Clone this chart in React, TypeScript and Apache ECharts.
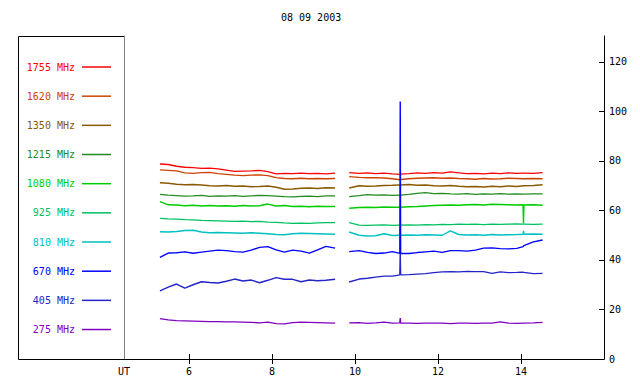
import React, { useEffect, useRef } from "react";
import * as echarts from "echarts";

const titleText = "08 09 2003";

// UT hours (shared sampling for all channels); 9.70 is the data gap
const times = [
  5.3, 5.5, 5.7, 5.9, 6.1, 6.3, 6.5, 6.7, 6.9, 7.1, 7.3, 7.5, 7.7, 7.9, 8.1, 8.3, 8.5, 8.7, 8.9, 9.1, 9.3, 9.52,
  9.7,
  9.86, 10.1, 10.3, 10.5, 10.7, 10.9, 11.08, 11.09, 11.1, 11.3, 11.5, 11.7, 11.9, 12.1, 12.3, 12.5, 12.7, 12.9,
  13.1, 13.3, 13.5, 13.7, 13.9, 14.05, 14.06, 14.07, 14.3, 14.52,
];

const f1755 = [
  78.8, 78.6, 77.9, 77.5, 77.3, 77.0, 77.1, 76.8, 76.3, 75.8, 75.9, 76.0, 76.2, 75.7, 74.8, 75.0, 74.9, 75.1, 74.9, 75.0, 74.8, 75.1,
  null,
  75.3, 75.0, 75.2, 74.9, 75.1, 74.8, 74.6, 74.6, 74.7, 74.9, 75.2, 75.0, 75.3, 75.1, 75.6, 75.2, 74.9, 75.0, 74.8, 75.1, 74.9, 75.2, 75.0, 75.1, 75.1, 75.1, 75.0, 75.3,
];
const f1620 = [
  76.4, 76.2, 76.0, 75.2, 75.0, 75.3, 75.4, 74.9, 74.6, 74.3, 74.1, 74.3, 74.4, 74.1, 73.3, 72.9, 72.8, 73.0, 72.8, 72.9, 72.8, 72.9,
  null,
  73.7, 73.4, 73.2, 73.3, 73.1, 72.8, 72.4, 72.4, 72.5, 72.8, 73.0, 73.1, 73.2, 73.0, 73.1, 72.9, 72.8, 72.6, 72.9, 72.7, 72.8, 73.0, 72.9, 72.8, 72.8, 72.8, 72.9, 72.8,
];
const f1350 = [
  71.2, 71.0, 70.6, 70.4, 70.5, 70.3, 70.0, 69.9, 70.1, 69.8, 69.9, 69.6, 69.7, 69.9, 69.4, 68.6, 68.7, 69.0, 69.1, 68.9, 69.2, 69.1,
  null,
  69.1, 70.0, 69.8, 69.9, 70.1, 70.2, 70.3, 70.3, 70.3, 70.5, 70.2, 70.3, 70.0, 69.9, 70.1, 69.8, 69.6, 69.7, 69.5, 69.8, 69.6, 69.9, 69.7, 70.0, 70.0, 70.0, 70.1, 70.4,
];
const f1215 = [
  66.5, 66.2, 66.0, 65.8, 65.9, 66.1, 65.7, 65.9, 65.8, 66.0, 65.7, 65.9, 66.1, 66.0, 65.8, 65.6, 65.5, 65.7, 65.8, 65.6, 65.9, 65.9,
  null,
  65.6, 66.0, 66.4, 66.2, 66.3, 66.1, 66.2, 66.2, 66.2, 66.5, 66.9, 67.2, 66.8, 66.9, 66.7, 66.6, 66.8, 66.5, 66.7, 66.6, 66.8, 66.6, 66.7, 66.6, 66.6, 66.6, 66.7, 66.7,
];
const f1080 = [
  63.6, 62.3, 62.2, 61.9, 62.1, 61.8, 62.0, 61.8, 61.9, 61.7, 62.0, 61.8, 61.9, 62.6, 61.8, 62.0, 61.6, 61.7, 61.5, 61.7, 61.6, 61.6,
  null,
  60.9, 61.2, 61.3, 61.2, 61.4, 61.3, 61.3, 61.3, 61.3, 61.5, 61.6, 61.8, 62.0, 62.1, 62.2, 62.1, 62.3, 62.4, 62.2, 62.5, 62.4, 62.3, 62.2, 62.3, 54.8, 62.2, 62.3, 62.1,
];
const f925 = [
  56.8, 56.6, 56.5, 56.3, 56.2, 56.0, 55.9, 55.8, 55.7, 55.6, 55.7, 55.5, 55.6, 55.3, 55.2, 55.0, 54.8, 54.9, 54.8, 55.0, 55.1, 55.1,
  null,
  55.1, 54.1, 54.0, 54.1, 54.2, 54.0, 54.1, 54.1, 54.1, 54.2, 54.1, 54.3, 54.2, 54.4, 54.3, 54.5, 54.4, 54.5, 54.3, 54.5, 54.4, 54.5, 54.6, 54.5, 54.5, 54.5, 54.4, 54.5,
];
const f810 = [
  51.4, 51.3, 51.5, 51.9, 52.0, 51.3, 51.0, 51.1, 51.0, 50.9, 50.8, 51.0, 50.8, 50.6, 50.3, 50.2, 50.6, 50.8, 50.7, 50.6, 50.5, 50.4,
  null,
  51.3, 50.0, 49.7, 49.8, 50.6, 49.9, 50.0, 50.0, 50.0, 50.1, 50.0, 50.2, 50.1, 50.0, 51.8, 50.3, 50.1, 50.2, 50.0, 50.3, 50.1, 50.2, 50.3, 50.4, 51.8, 50.4, 50.5, 50.4,
];
const f670 = [
  41.1, 42.8, 42.9, 43.3, 42.7, 43.2, 43.6, 44.0, 43.8, 43.4, 43.2, 44.0, 45.1, 45.4, 44.1, 43.2, 44.0, 43.6, 42.8, 44.1, 45.5, 44.8,
  null,
  43.4, 43.8, 43.1, 42.6, 42.8, 43.4, 42.7, 104.0, 42.6, 42.6, 43.0, 43.3, 43.6, 43.1, 43.8, 43.8, 43.6, 44.0, 44.8, 44.9, 44.6, 44.5, 44.7, 45.4, 45.6, 45.8, 47.3, 48.1,
];
const f405 = [
  27.5, 29.0, 30.3, 28.6, 30.0, 31.2, 30.9, 30.7, 31.4, 32.3, 31.5, 31.9, 30.8, 31.8, 32.9, 32.2, 32.2, 31.2, 31.9, 31.6, 31.8, 32.2,
  null,
  31.1, 32.3, 32.6, 33.1, 33.5, 33.5, 34.0, 43.0, 34.0, 34.1, 34.3, 34.5, 34.9, 35.2, 35.3, 35.2, 35.4, 35.3, 35.3, 34.6, 35.2, 34.9, 35.0, 35.1, 35.1, 35.0, 34.5, 34.6,
];
const f275 = [
  16.3, 15.8, 15.5, 15.4, 15.3, 15.2, 15.1, 15.1, 15.0, 15.0, 14.9, 14.8, 14.6, 14.9, 14.3, 14.2, 14.7, 14.9, 14.8, 14.7, 14.6, 14.5,
  null,
  14.6, 14.7, 14.4, 14.6, 14.9, 14.5, 14.6, 16.5, 14.5, 14.5, 14.4, 14.5, 14.5, 14.5, 14.3, 14.5, 14.5, 14.4, 14.5, 14.5, 15.0, 14.5, 14.4, 14.5, 14.5, 14.5, 14.6, 14.8,
];

const channelNames = ["1755 MHz", "1620 MHz", "1350 MHz", "1215 MHz", "1080 MHz", "925 MHz", "810 MHz", "670 MHz", "405 MHz", "275 MHz"];
const channelValues = [f1755, f1620, f1350, f1215, f1080, f925, f810, f670, f405, f275];
const channelColors = ["#ff0000", "#cc4400", "#8b5a00", "#228b22", "#00cc00", "#00c060", "#00c0c0", "#0000ff", "#2424c8", "#8000c0"];

const xTickValues = [6, 8, 10, 12, 14];
const xLabelValues = [4.434, 6, 8, 10, 12, 14];
const utValue = 4.434;
const yTickValues = [20, 40, 60, 80, 100, 120];
const yLabelValues = [0, 20, 40, 60, 80, 100, 120];

const FONT = "'DejaVu Sans Mono', monospace";

export default function App() {
  const ref = useRef<HTMLDivElement>(null);
  useEffect(() => {
    if (!ref.current) return;
    const chart = echarts.init(ref.current, null, { renderer: "svg" });
    const xMin = 4.434;
    const xMax = 16;
    const yMin = 0;
    const yMax = 130.5;
    const series = channelNames.map((name, i) => ({
      name,
      type: "line",
      xAxisIndex: 0,
      yAxisIndex: 0,
      symbol: "none",
      connectNulls: false,
      lineStyle: { color: channelColors[i], width: 1.4 },
      itemStyle: { color: channelColors[i] },
      data: times.map((t, k) => [t, channelValues[i][k] === null ? null : channelValues[i][k]]),
      z: 3 + (i === 7 ? 5 : 0),
    }));
    chart.setOption({
      animation: false,
      backgroundColor: "#ffffff",
      title: {
        text: titleText,
        left: 281,
        top: 12,
        padding: 0,
        textStyle: { fontFamily: FONT, fontSize: 10, fontWeight: "normal", color: "#000" },
      },
      legend: {
        orient: "vertical",
        right: 529,
        top: 62,
        height: 310,
        padding: 0,
        icon: "rect",
        itemWidth: 29,
        itemHeight: 1.5,
        itemGap: 19.17,
        align: "right",
        selectedMode: false,
        data: channelNames.map((n, i) => ({
          name: n,
          itemStyle: { color: channelColors[i] },
          textStyle: { color: channelColors[i], fontFamily: FONT, fontSize: 10, padding: [0, 2, 0, 0] },
        })),
      },
      grid: { left: 124, right: 36, top: 36, bottom: 25 },
      xAxis: [
        {
          type: "value",
          position: "bottom",
          min: xMin,
          max: xMax,
          axisLine: { lineStyle: { color: "#000", width: 1 } },
          axisTick: { inside: true, length: 5, customValues: xTickValues, lineStyle: { color: "#000" } },
          axisLabel: {
            customValues: xLabelValues,
            margin: 7,
            fontFamily: FONT,
            fontSize: 10,
            color: "#000",
            formatter: (v: number) => (Math.abs(v - utValue) < 1e-6 ? "UT" : String(v)),
          },
          splitLine: { show: false },
        },
        {
          type: "value",
          position: "top",
          min: xMin,
          max: xMax,
          axisLine: { lineStyle: { color: "#000", width: 1 } },
          axisTick: { inside: true, length: 5, customValues: xTickValues, lineStyle: { color: "#000" } },
          axisLabel: { show: false },
          splitLine: { show: false },
        },
      ],
      yAxis: [
        {
          type: "value",
          position: "right",
          min: yMin,
          max: yMax,
          axisLine: { show: true, lineStyle: { color: "#000", width: 1 } },
          axisTick: { show: true, inside: true, length: 5, customValues: yTickValues, lineStyle: { color: "#000" } },
          axisLabel: {
            customValues: yLabelValues,
            margin: 5,
            fontFamily: FONT,
            fontSize: 10,
            color: "#000",
          },
          splitLine: { show: false },
        },
        {
          type: "value",
          position: "left",
          min: yMin,
          max: yMax,
          axisLine: { show: true, lineStyle: { color: "#808080", width: 1 } },
          axisTick: { show: false },
          axisLabel: { show: false },
          splitLine: { show: false },
        },
      ],
      graphic: [
        {
          type: "polyline",
          shape: { points: [[124, 36.5], [18.5, 36.5], [18.5, 359.5], [124, 359.5]] },
          style: { stroke: "#000", lineWidth: 1, fill: "none" },
          silent: true,
        },
      ],
      series,
    });
    return () => chart.dispose();
  }, []);
  return <div ref={ref} style={{ width: 640, height: 384, position: "absolute", left: 0, top: 0 }} />;
}
